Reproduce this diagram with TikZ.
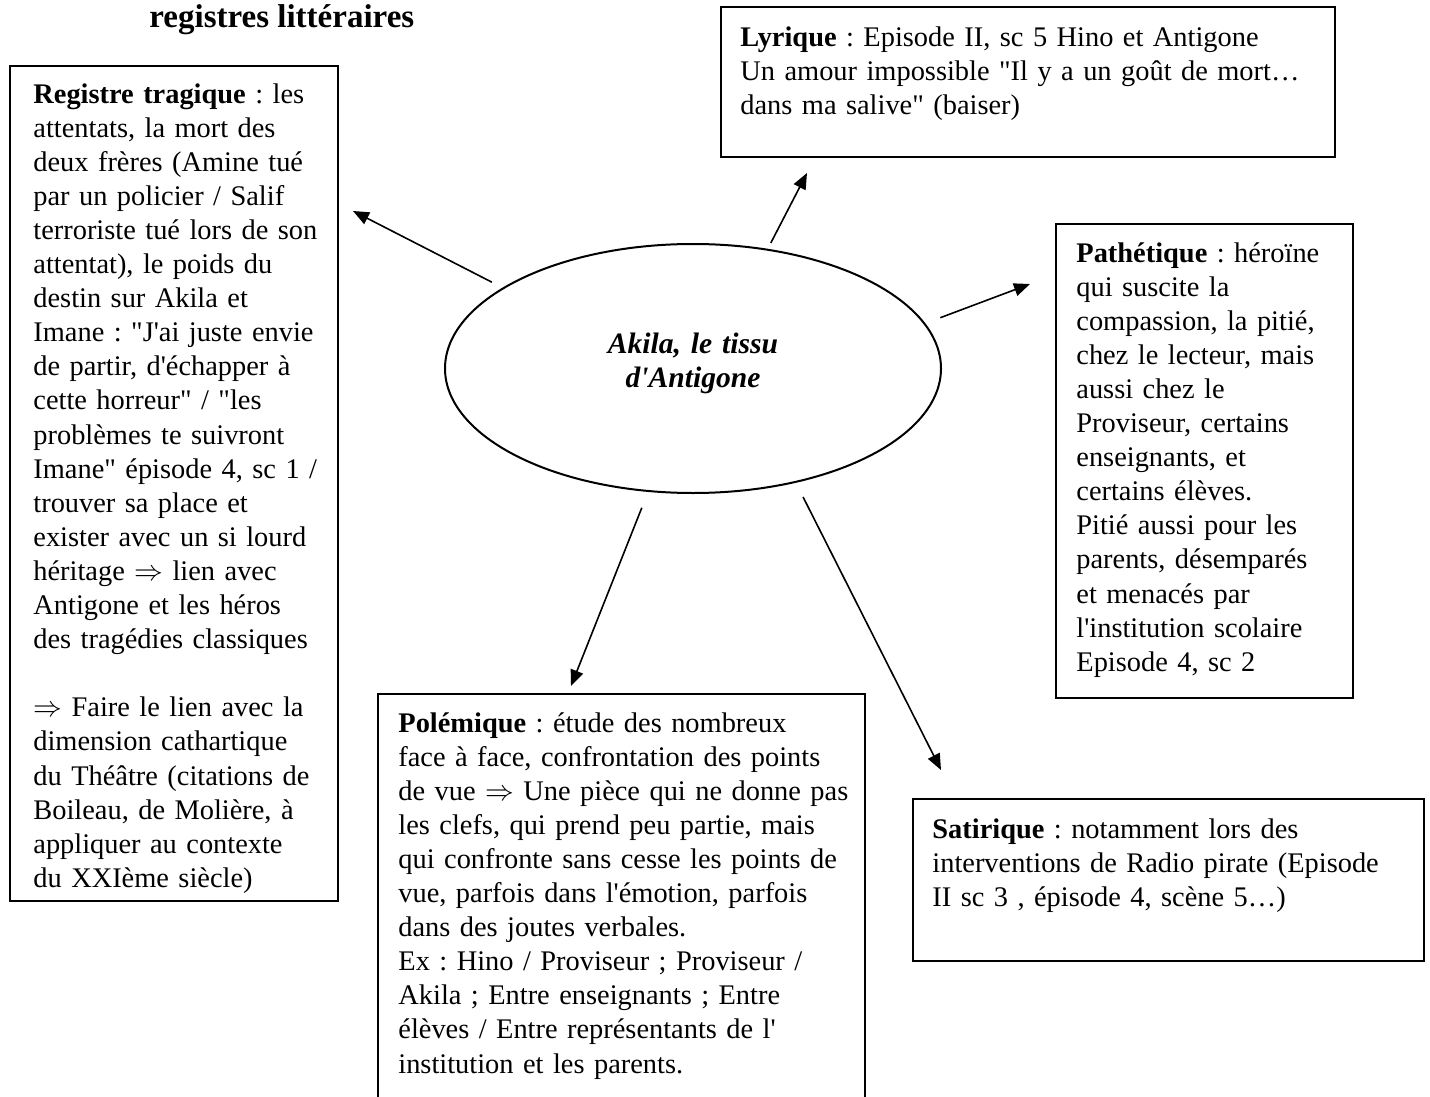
\documentclass[tikz,border=0pt]{standalone}
\usepackage{fontspec}
\setmainfont{Liberation Serif}[Ligatures=TeXOff]
\usetikzlibrary{shapes.geometric,arrows.meta}
\frenchspacing
\begin{document}
\begin{tikzpicture}[>={Triangle[length=8pt,width=6.5pt]},x=0.5pt,y=-0.5pt,
	cadre/.style={draw,line width=1pt,anchor=north west,inner sep=0pt},
	texte/.style={anchor=north west,inner sep=0pt,text width=300pt,align=left,font=\fontsize{14.2pt}{17.05pt}\selectfont},
	fleche/.style={->,line width=0.8pt}]
	\useasboundingbox (0,0) rectangle (1430,1097);
	\node[anchor=base west,inner sep=0pt,font=\fontsize{16.5pt}{19pt}\selectfont\bfseries] (titre) at (149,27.5) {registres littéraires};
	%cadres
	\node[cadre,minimum width=164pt,minimum height=417.5pt] (tragique) at (9,65) {};
	\node[cadre,minimum width=307pt,minimum height=75pt] (lyrique) at (720,6) {};
	\node[cadre,minimum width=148.5pt,minimum height=237pt] (pathetique) at (1055,223) {};
	\node[cadre,minimum width=243.5pt,minimum height=208.5pt] (polemique) at (377,693) {};
	\node[cadre,minimum width=255.5pt,minimum height=81pt] (satirique) at (912,798) {};
	\node[draw,ellipse,line width=1pt,minimum width=248pt,minimum height=124.5pt,inner sep=0pt] (akila) at (693,368.5) {};
	%textes
	\node[texte,text width=150pt,align=center,anchor=north,font=\fontsize{14.8pt}{17.05pt}\selectfont] (akila-txt) at (693,328.8) {\strut\textbf{\textit{Akila, le tissu}}\\ \textbf{\textit{d'Antigone}}};
	\node[texte] (tragique-txt) at (33,78.8) {\strut\textbf{Registre tragique} : les\\
		attentats, la mort des\\
		deux frères (Amine tué\\
		par un policier / Salif\\
		terroriste tué lors de son\\
		attentat), le poids du\\
		destin sur Akila et\\
		Imane : "J'ai juste envie\\
		de partir, d'échapper à\\
		cette horreur" / "les\\
		problèmes te suivront\\
		Imane" épisode 4, sc 1 /\\
		trouver sa place et\\
		exister avec un si lourd\\
		héritage $\Rightarrow$ lien avec\\
		Antigone et les héros\\
		des tragédies classiques\\[17.05pt]
		$\Rightarrow$ Faire le lien avec la\\
		dimension cathartique\\
		du Théâtre (citations de\\
		Boileau, de Molière, à\\
		appliquer au contexte\\
		du XXIème siècle)};
	\node[texte] (lyrique-txt) at (740,22.3) {\strut\textbf{Lyrique} : Episode II, sc 5 Hino et Antigone\\
		Un amour impossible "Il y a un goût de mort…\\
		dans ma salive" (baiser)};
	\node[texte] (pathetique-txt) at (1076,237.8) {\strut\textbf{Pathétique} : héroïne\\
		qui suscite la\\
		compassion, la pitié,\\
		chez le lecteur, mais\\
		aussi chez le\\
		Proviseur, certains\\
		enseignants, et\\
		certains élèves.\\
		Pitié aussi pour les\\
		parents, désemparés\\
		et menacés par\\
		l'institution scolaire\\
		Episode 4, sc 2};
	\node[texte] (polemique-txt) at (398,707.8) {\strut\textbf{Polémique} : étude des nombreux\\
		face à face, confrontation des points\\
		de vue $\Rightarrow$ Une pièce qui ne donne pas\\
		les clefs, qui prend peu partie, mais\\
		qui confronte sans cesse les points de\\
		vue, parfois dans l'émotion, parfois\\
		dans des joutes verbales.\\
		Ex : Hino / Proviseur ; Proviseur /\\
		Akila ; Entre enseignants ; Entre\\
		élèves / Entre représentants de l'\\
		institution et les parents.};
	\node[texte] (satirique-txt) at (932,813.8) {\strut\textbf{Satirique} : notamment lors des\\
		interventions de Radio pirate (Episode\\
		II sc 3 , épisode 4, scène 5…)};
	%fleches
	\coordinate (p-tragique) at (353,211);
	\coordinate (p-lyrique) at (807,173);
	\coordinate (p-pathetique) at (1030,284);
	\coordinate (p-polemique) at (571,686);
	\coordinate (p-satirique) at (941,770);
	\draw[fleche,shorten <=6pt] (akila.157)--(p-tragique);
	\draw[fleche,shorten <=3.3pt] (akila.58)--(p-lyrique);
	\draw[fleche,shorten <=8pt] (akila.11)--(p-pathetique);
	\draw[fleche,shorten <=8.5pt] (akila.250)--(p-polemique);
	\draw[fleche,shorten <=8pt] (akila.312)--(p-satirique);
\end{tikzpicture}
\end{document}
